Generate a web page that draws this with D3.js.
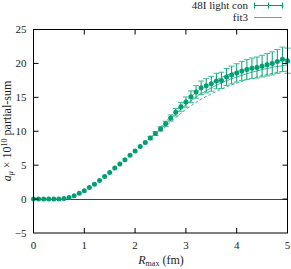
<!DOCTYPE html>
<html><head><meta charset="utf-8">
<script src="https://cdn.jsdelivr.net/npm/d3@7"></script>
<style>body{margin:0;background:#fff}svg{display:block}</style>
</head><body><svg id="c" width="291" height="269"></svg>
<script>
const rmax = d3.range(51).map(i => +(i*0.1).toFixed(1));
const amu = [0,0,0,0,0,0.02,0.08,0.24,0.5,0.85,1.22,1.7,2.2,2.74,3.33,3.92,4.57,5.17,5.8,6.45,7.1,7.75,8.35,9.0,9.65,10.35,11.1,11.95,12.8,13.6,14.3,15.1,15.8,16.4,16.7,17.0,17.4,17.5,18.0,18.3,18.6,18.9,19.1,19.3,19.4,19.6,19.8,20.0,20.3,20.6,20.4];
const amuErr = [0.02,0.02,0.02,0.02,0.02,0.02,0.03,0.03,0.04,0.05,0.05,0.06,0.07,0.08,0.09,0.1,0.11,0.12,0.14,0.16,0.18,0.2,0.22,0.25,0.28,0.32,0.38,0.45,0.55,0.65,0.75,0.85,0.92,1.0,1.05,1.1,1.15,1.2,1.25,1.3,1.35,1.4,1.45,1.5,1.55,1.6,1.65,1.7,1.75,1.8,1.85];
const fitX = [2.5,2.75,3.0,3.25,3.5,3.75,4.0,4.25,4.5,4.75,5.0];
const fitMid = [10.3,12.2,13.9,15.3,16.4,17.3,18.0,18.6,19.1,19.5,19.8];
const fitLo = [10.0,11.7,13.2,14.5,15.5,16.4,17.1,17.7,18.2,18.6,18.9];
const fitHi = [10.6,12.6,14.5,16.0,17.2,18.1,18.8,19.4,19.9,20.3,20.6];
const xTicks = [0,1,2,3,4,5];
const yTicks = [-5,0,5,10,15,20,25];
const legendLabels = ["48I light con","fit3"];

const svg = d3.select("#c");
const L=33.5, R=287.5, T=29.5, B=233;
const x = d3.scaleLinear().domain([0,5]).range([L,R]);
const y = d3.scaleLinear().domain([-5,25]).range([B,T]);
const green="#009e73", light="#3dbb93";

// zero line
const y0=Math.round(y(0))+0.5;
svg.append("line").attr("x1",x(0)).attr("x2",x(5)).attr("y1",y0).attr("y2",y0)
  .attr("stroke","#9400d3").attr("stroke-width",1);

// fit lines
const line = d3.line().x(d=>x(d[0])).y(d=>y(d[1])).curve(d3.curveMonotoneX);
[[fitLo,"3,2"],[fitHi,"3,2"],[fitMid,null]].forEach(([arr,dash])=>{
  svg.append("path").attr("d",line(fitX.map((v,i)=>[v,arr[i]])))
    .attr("fill","none").attr("stroke",light).attr("stroke-width",1)
    .attr("stroke-dasharray",dash);
});

// error bars
const eb = svg.append("g").attr("stroke",light).attr("stroke-width",1);
rmax.forEach((r,i)=>{
  const e=amuErr[i]; if(y(amu[i]-e)-y(amu[i]+e)<3) return;
  eb.append("line").attr("x1",x(r)).attr("x2",x(r)).attr("y1",y(amu[i]-e)).attr("y2",y(amu[i]+e)).attr("stroke",green);
  [amu[i]-e,amu[i]+e].forEach(v=>eb.append("line").attr("x1",x(r)-3).attr("x2",x(r)+3).attr("y1",y(v)).attr("y2",y(v)));
});
// points
svg.append("g").selectAll("circle").data(rmax).join("circle")
  .attr("cx",d=>x(d)).attr("cy",(d,i)=>y(amu[i])).attr("r",2.5)
  .attr("fill",green);

// frame
svg.append("rect").attr("x",L).attr("y",T).attr("width",R-L).attr("height",B-T)
  .attr("fill","none").attr("stroke","#000").attr("stroke-width",1);
const tk=svg.append("g").attr("stroke","#000").attr("stroke-width",1);
xTicks.forEach(t=>{ if(t===0||t===5) return;
  tk.append("line").attr("x1",x(t)).attr("x2",x(t)).attr("y1",B).attr("y2",B-5);
  tk.append("line").attr("x1",x(t)).attr("x2",x(t)).attr("y1",T).attr("y2",T+5);});
yTicks.forEach(t=>{ if(t===-5||t===25) return;
  tk.append("line").attr("x1",L).attr("x2",L+5).attr("y1",y(t)).attr("y2",y(t));
  tk.append("line").attr("x1",R).attr("x2",R-5).attr("y1",y(t)).attr("y2",y(t));});

const txt=(sel)=>sel.attr("fill","#222").attr("font-family","Liberation Serif");
xTicks.forEach(t=>txt(svg.append("text")).attr("x",x(t)).attr("y",B+16).attr("text-anchor","middle").attr("font-size",11).text(t));
yTicks.forEach(t=>txt(svg.append("text")).attr("x",L-7).attr("y",y(t)+3.5).attr("text-anchor","end").attr("font-size",11).text(t<0?"\u2212"+(-t):t));

// axis labels
const xl=txt(svg.append("text")).attr("x",161).attr("y",264).attr("text-anchor","middle").attr("font-size",12);
xl.append("tspan").attr("font-style","italic").text("R");
xl.append("tspan").attr("font-size",8).attr("dy",2).text("max");
xl.append("tspan").attr("dy",-2).text(" (fm)");
const yl=txt(svg.append("text")).attr("transform","translate(11,131) rotate(-90)").attr("text-anchor","middle").attr("font-size",12);
yl.append("tspan").attr("font-style","italic").text("a");
yl.append("tspan").attr("font-style","italic").attr("font-size",8).attr("dy",2).text("\u03bc");
yl.append("tspan").attr("dy",-2).text(" \u00d7 10");
yl.append("tspan").attr("font-size",8).attr("dy",-4).text("10");
yl.append("tspan").attr("dy",4).text(" partial-sum");

// legend
txt(svg.append("text")).attr("x",248).attr("y",9).attr("text-anchor","end").attr("font-size",11).text(legendLabels[0]);
txt(svg.append("text")).attr("x",248).attr("y",21).attr("text-anchor","end").attr("font-size",11).text(legendLabels[1]);
const lg=svg.append("g").attr("stroke",green).attr("stroke-width",1);
lg.append("line").attr("x1",254).attr("x2",282).attr("y1",5.5).attr("y2",5.5);
[254.5,268.5,282.5].forEach(v=>lg.append("line").attr("x1",v).attr("x2",v).attr("y1",2.5).attr("y2",8.5));
svg.append("line").attr("x1",254).attr("x2",282).attr("y1",17.5).attr("y2",17.5).attr("stroke",light).attr("stroke-width",1);
</script></body></html>
